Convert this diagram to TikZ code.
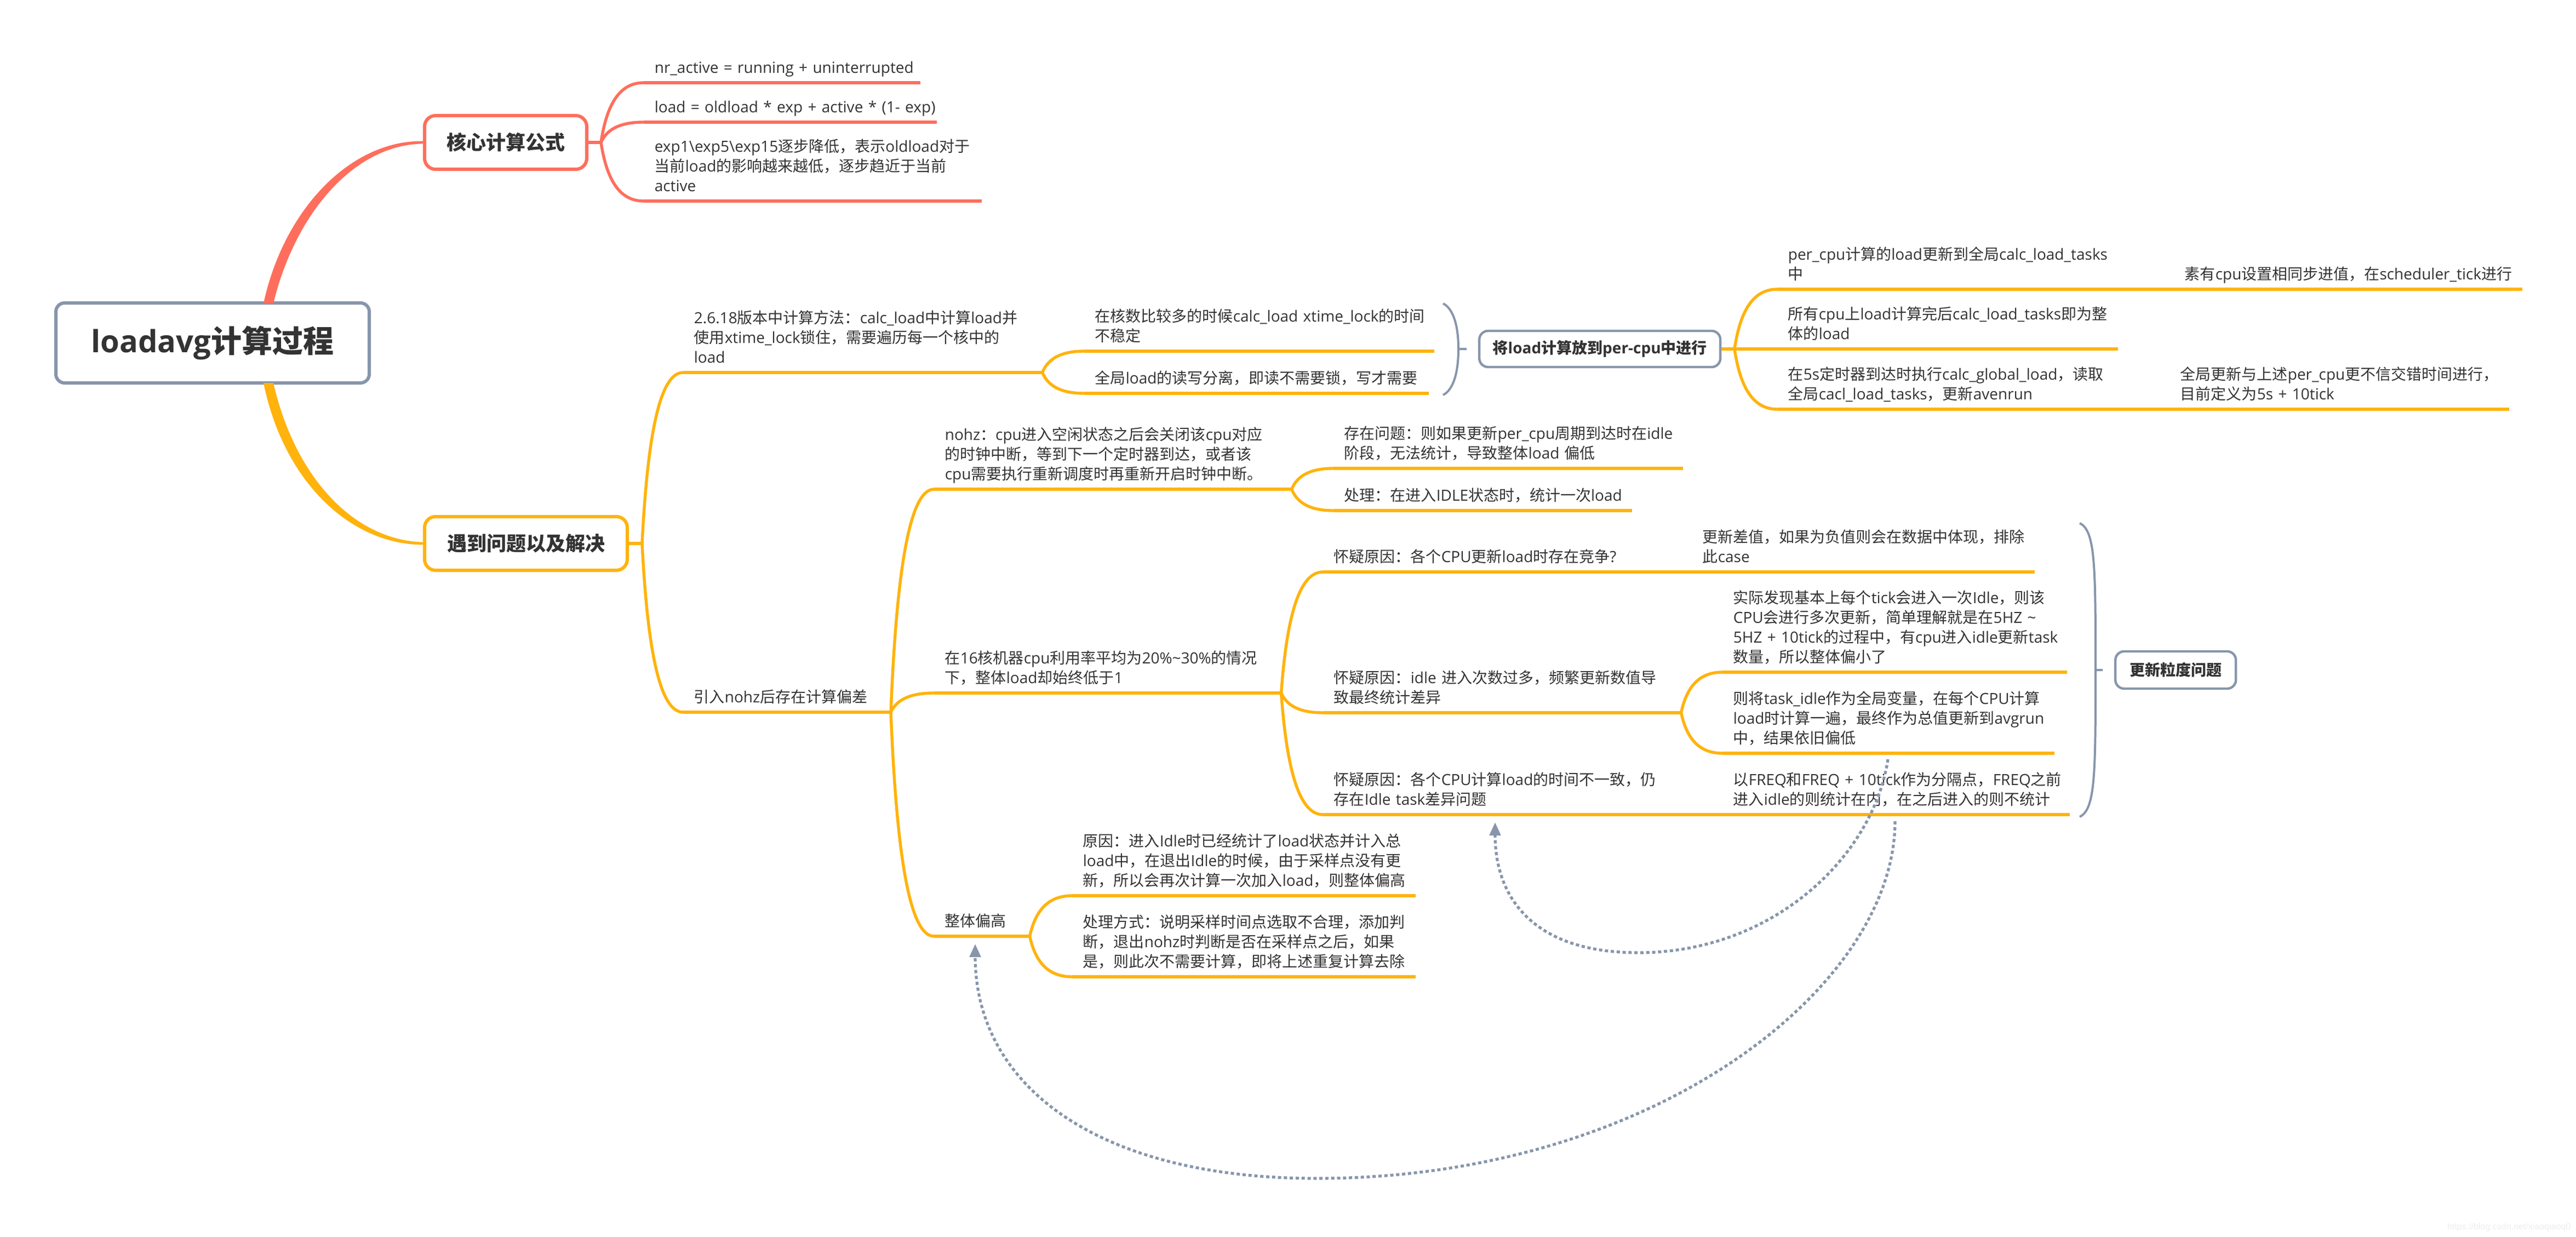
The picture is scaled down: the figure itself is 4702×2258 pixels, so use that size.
\documentclass[tikz,border=0pt]{standalone}
\usepackage{fontspec}
\setmainfont{Open Sans}
\newfontfamily\cjkfont{Noto Sans CJK SC}
\newfontfamily\markfont{Liberation Sans}
% CJK runs switch font by themselves
\newXeTeXintercharclass\cjkclass
\newcount\cjkcode
\newcommand\cjkrange[2]{\cjkcode=#1 \loop\XeTeXcharclass\cjkcode=\cjkclass
  \ifnum\cjkcode<#2 \advance\cjkcode by 1 \repeat}
\cjkrange{"3000}{"303F}
\cjkrange{"4E00}{"9FFF}
\cjkrange{"FF00}{"FFEF}
\XeTeXinterchartokenstate=1
\XeTeXinterchartoks 0 \cjkclass={\cjkfont}
\XeTeXinterchartoks 4095 \cjkclass={\cjkfont}
\XeTeXinterchartoks \cjkclass 0={\rmfamily}
\XeTeXinterchartoks \cjkclass 4095={\rmfamily}
\hyphenpenalty=10000
\usetikzlibrary{arrows.meta,calc,positioning}
\definecolor{rosy}{HTML}{FF6E5C}
\definecolor{amber}{HTML}{FFB30C}
\definecolor{slate}{HTML}{8796AB}
\definecolor{ink}{HTML}{333333}
\begin{document}
\begin{tikzpicture}[x=.25pt,y=.25pt,node distance=5.25pt,
    leaf/.style={anchor=south west,inner xsep=4.75pt,inner ysep=1.75pt,
      text width=#1*.25pt-9.5pt,align=left,text=ink,font=\fontsize{7}{9}\selectfont,
      execute at end node={\vrule depth 2.5pt height 1pt width 0pt}},
    topic/.style={draw=#1,fill=white,line width=1.5pt,rounded corners=5pt,text=ink,inner sep=0pt,
      font=\bfseries\fontsize{9}{11}\selectfont},
    side/.style={draw=slate,fill=white,line width=1.1pt,rounded corners=4pt,text=ink,inner sep=0pt,
      font=\bfseries\fontsize{7}{9}\selectfont},
    twig/.style={to path={let \p1=(\tikztostart),\p2=(\tikztotarget) in
      .. controls ({\x1+.15*(\x2-\x1)},{\y1+.72*(\y2-\y1)}) and ({\x1+.5*(\x2-\x1)},{\y2}) .. (\tikztotarget)}},
    rule/.style={line width=1.6pt},
    link/.style={line width=1.35pt},
    brace/.style={draw=slate,line width=1pt},
    hookin/.style={out=-25,in=90,out looseness=.3,in looseness=1.8},
    hookout/.style={out=-90,in=25,out looseness=1.8,in looseness=.3},
    jump/.style={draw=slate,line width=1.3pt,dash pattern=on 1.5pt off 1.2pt,-{Triangle[length=6pt,width=5pt]}}]
\useasboundingbox (0,0) rectangle (4702,-2258);

\node[draw=slate,fill=white,line width=1.5pt,rounded corners=4pt,text=ink,inner sep=0pt,
  minimum width=143pt,minimum height=36.5pt,font=\bfseries\fontsize{14}{16}\selectfont] (r_0) at (388,-626) {loadavg计算过程};
\node[topic=rosy,minimum width=74pt,minimum height=24.5pt] (t_1) at (923,-260) {核心计算公式};
\node[topic=amber,minimum width=92.5pt,minimum height=24.5pt] (t_2) at (960,-992) {遇到问题以及解决};

% red branch
\node[leaf=503] (a_1) at (1175,-151) {nr\_active~=~running~+~uninterrupted};
\node[leaf=533] (a_2) at (1175,-223) {load~=~oldload~*~exp~+~active~*~\mbox{(1-~exp)}};
\node[leaf=615] (a_3) at (1175,-367) {exp1\textbackslash exp5\textbackslash exp15逐步降低，表示oldload对于\\当前load的影响越来越低，逐步趋近于当前\\active};

% amber branch, first level
\node[leaf=654] (b_1) at (1247,-680) {2.6.18版本中计算方法：calc\_load中计算load并\\使用xtime\_lock锁住，需要遍历每一个核中的\\load};
\node[leaf=379] (b_2) at (1247,-1300) {引入nohz后存在计算偏差};
\node[leaf=637] (c_1) at (1979,-641) {在核数比较多的时候calc\_load~xtime\_lock的时间\\不稳定};
\node[leaf=627] (c_2) at (1979,-718) {全局load的读写分离，即读不需要锁，写才需要};

% per-cpu part
\coordinate (u_1) at (2634,-554);
\coordinate (v_1) at (2634,-721);
\coordinate (m_0) at (2662,-637);
\coordinate (s_1) at (2677,-637);
\node[side,right=of s_1,minimum width=110pt,minimum height=16.5pt] (p_1) {将load计算放到per-cpu中进行};
\coordinate (j_3) at (3166,-637);
\node[leaf=620] (m_1) at (3244,-528) {per\_cpu计算的load更新到全局calc\_load\_tasks\\中};
\node[leaf=620] (m_2) at (3244,-637) {所有cpu上load计算完后calc\_load\_tasks即为整\\体的load};
\node[leaf=612] (m_3) at (3244,-747) {在5s定时器到达时执行calc\_global\_load，读取\\全局cacl\_load\_tasks，更新avenrun};
\node[leaf=634] (n_1) at (3968,-528) {素有cpu设置相同步进值，在scheduler\_tick进行};
\node[leaf=618] (n_3) at (3960,-747) {全局更新与上述per\_cpu更不信交错时间进行，\\目前定义为5s~+~10tick};

% nohz part
\node[leaf=651] (d_1) at (1705,-893) {nohz：cpu进入空闲状态之后会关闭该cpu对应\\的时钟中断，等到下一个定时器到达，或者该\\cpu需要执行重新调度时再重新开启时钟中断。};
\node[leaf=632] (d_2) at (1705,-1265) {在16核机器cpu利用率平均为20\%\textasciitilde 30\%的情况\\下，整体load却始终低于1};
\node[leaf=173] (d_3) at (1705,-1709) {整体偏高};
\node[leaf=636] (e_1) at (2434,-855) {存在问题：则如果更新per\_cpu周期到达时在idle\\阶段，无法统计，导致整体load 偏低};
\node[leaf=543] (e_2) at (2434,-932) {处理：在进入IDLE状态时，统计一次load};
\node[leaf=571] (f_1) at (2415,-1044) {怀疑原因：各个CPU更新load时存在竞争?};
\node[leaf=652] (f_2) at (2415,-1301) {怀疑原因：idle 进入次数过多，频繁更新数值导\\致最终统计差异};
\node[leaf=625] (f_3) at (2415,-1487) {怀疑原因：各个CPU计算load的时间不一致，仍\\存在Idle~task差异问题};
\node[leaf=624] (g_1) at (3088,-1044) {更新差值，如果为负值则会在数据中体现，排除\\此case};
\node[leaf=627] (h_1) at (3144,-1227) {实际发现基本上每个tick会进入一次Idle，则该\\CPU会进行多次更新，简单理解就是在5HZ~\textasciitilde\\5HZ~+~10tick的过程中，有cpu进入idle更新task\\数量，所以整体偏小了};
\node[leaf=604] (h_2) at (3144,-1375) {则将task\_idle作为全局变量，在每个CPU计算\\load时计算一遍，最终作为总值更新到avgrun\\中，结果依旧偏低};
\node[leaf=632] (g_3) at (3144,-1487) {以FREQ和FREQ~+~10tick作为分隔点，FREQ之前\\进入idle的则统计在内，在之后进入的则不统计};
\node[leaf=625] (k_1) at (1957,-1635) {原因：进入Idle时已经统计了load状态并计入总\\load中，在退出Idle的时候，由于采样点没有更\\新，所以会再次计算一次加入load，则整体偏高};
\node[leaf=625] (k_2) at (1957,-1783) {处理方式：说明采样时间点选取不合理，添加判\\断，退出nohz时判断是否在采样点之后，如果\\是，则此次不需要计算，即将上述重复计算去除};

% granularity brace
\coordinate (u_2) at (3796,-955);
\coordinate (v_2) at (3796,-1491);
\coordinate (m_4) at (3825,-1223);
\coordinate (s_2) at (3838,-1223);
\node[side,right=of s_2,minimum width=55pt,minimum height=17pt] (p_2) {更新粒度问题};

% thick tapered limbs from the root
\coordinate (r_1) at (490,-554);
\coordinate (r_2) at (490,-699);
\fill[rosy] ([xshift=-2.25pt]r_1) .. controls (518,-382) and (640,-256) .. ([yshift=.6pt]t_1.west)
  -- ([yshift=-.6pt]t_1.west) .. controls (645,-264) and (538,-392) .. ([xshift=2.25pt]r_1) -- cycle;
\fill[amber] ([xshift=-2.25pt]r_2) .. controls (518,-880) and (640,-994) .. ([yshift=-.6pt]t_2.west)
  -- ([yshift=.6pt]t_2.west) .. controls (645,-986) and (538,-870) .. ([xshift=2.25pt]r_2) -- cycle;

\coordinate (j_1) at (1097,-260);
\coordinate (j_2) at (1172,-992);
\coordinate (j_4) at (1626,-1300);

\path[draw=rosy,link] (t_1.east) -- (j_1)
  (j_1) edge[twig] (a_1.south west)
  (j_1) edge[twig] (a_2.south west)
  (j_1) edge[twig] (a_3.south west);
\foreach \n in {a_1,a_2,a_3}
  \draw[rosy,rule] (\n.south west) -- (\n.south east);

\path[draw=amber,link] (t_2.east) -- (j_2)
  (j_2) edge[twig] (b_1.south west)
  (j_2) edge[twig] (b_2.south west)
  (b_1.south east) edge[twig] (c_1.south west)
  (b_1.south east) edge[twig] (c_2.south west)
  (j_4) edge[twig] (d_1.south west)
  (j_4) edge[twig] (d_2.south west)
  (j_4) edge[twig] (d_3.south west)
  (d_1.south east) edge[twig] (e_1.south west)
  (d_1.south east) edge[twig] (e_2.south west)
  (d_2.south east) edge[twig] (f_1.south west)
  (d_2.south east) edge[twig] (f_2.south west)
  (d_2.south east) edge[twig] (f_3.south west)
  (f_2.south east) edge[twig] (h_1.south west)
  (f_2.south east) edge[twig] (h_2.south west)
  (d_3.south east) edge[twig] (k_1.south west)
  (d_3.south east) edge[twig] (k_2.south west)
  (p_1.east) -- (j_3)
  (j_3) edge[twig] (m_1.south west)
  (j_3) -- (m_2.south west)
  (j_3) edge[twig] (m_3.south west)
  (f_1.south east) -- (g_1.south west)
  (f_3.south east) -- (g_3.south west)
  (m_1.south east) -- (n_1.south west)
  (m_3.south east) -- (n_3.south west);
\foreach \n in {b_1,b_2,c_1,c_2,d_1,d_2,d_3,e_1,e_2,f_1,f_2,f_3,g_1,h_1,h_2,g_3,k_1,k_2,m_1,m_2,m_3,n_1,n_3}
  \draw[amber,rule] (\n.south west) -- (\n.south east);

\draw[brace] (u_1) to[hookin] (m_0) to[hookout] (v_1) (m_0) -- (s_1);
\draw[brace] (u_2) to[hookin] (m_4) to[hookout] (v_2) (m_4) -- (s_2);

% dotted jumps
\coordinate (y_1) at (3446,-1386);
\coordinate (z_1) at (2729,-1501);
\coordinate (y_2) at (3459,-1499);
\coordinate (z_2) at (1780,-1723);
\draw[jump] (y_1) .. controls (3420,-1560) and (3240,-1739) .. (2990,-1739) .. controls (2800,-1739) and (2729,-1640) .. (z_1);
\draw[jump] (y_2) .. controls (3459,-1800) and (3020,-2151) .. (2403,-2151) .. controls (2000,-2151) and (1780,-1980) .. (z_2);

\node[anchor=east,inner sep=0pt,text=black!7,font=\markfont\fontsize{4}{5}\selectfont] (w_0) at (4693,-2240) {https://blog.csdn.net/xiaoqiaoq0};
\end{tikzpicture}
\end{document}
